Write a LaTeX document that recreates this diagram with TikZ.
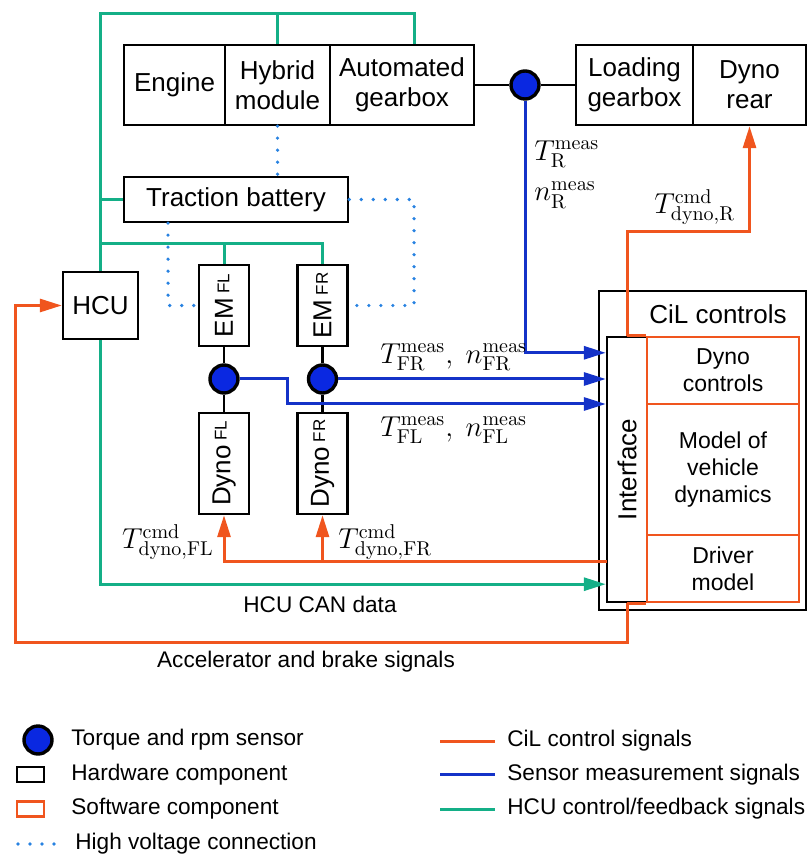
\documentclass[tikz,border=0pt]{standalone}
\usepackage[no-math]{fontspec}
\setmainfont{Liberation Sans}
\usetikzlibrary{arrows.meta}
\definecolor{cilorange}{RGB}{240,85,30}
\definecolor{sensblue}{RGB}{20,50,200}
\definecolor{sensfill}{RGB}{10,40,225}
\definecolor{hcugreen}{RGB}{20,175,135}
\definecolor{hvblue}{RGB}{40,130,225}
\newcommand{\boxfont}{\fontsize{13}{15}\selectfont}
\newcommand{\swfont}{\fontsize{11.5}{13.5}\selectfont}
\newcommand{\subtag}[1]{\,\raisebox{1.8pt}{\fontsize{8.5}{10}\selectfont #1}}
\begin{document}
\begin{tikzpicture}[x=0.5pt,y=-0.5pt,
  hw/.style={draw,line width=1.2pt,inner sep=0pt,align=center,font=\boxfont},
  sw/.style={draw=cilorange,line width=1.2pt,inner sep=0pt,align=center,font=\swfont},
  sensor/.style={circle,draw,line width=1.7pt,fill=sensfill,minimum size=14pt,inner sep=0pt},
  mech/.style={line width=1.2pt},
  cilline/.style={cilorange,line width=1.5pt},
  sensline/.style={sensblue,line width=1.5pt},
  hculine/.style={hcugreen,line width=1.5pt},
  hvline/.style={hvblue,line width=1.8pt,dash pattern=on 0pt off 6pt,line cap=round},
  sigarrow/.style={-{Triangle[length=11pt,width=6.5pt]}},
  lbl/.style={font=\fontsize{14}{16}\selectfont,inner sep=1pt},
  legtext/.style={font=\fontsize{11.3}{13}\selectfont,inner sep=1pt}]
\useasboundingbox (0,0) rectangle (808,854);
\node[hw,minimum width=50.5pt,minimum height=40pt] (eng) at (174.5,85) {Engine};
\node[hw,minimum width=52.5pt,minimum height=40pt] (hyb) at (277.5,85) {Hybrid\\module};
\node[hw,minimum width=72pt,minimum height=40pt] (agb) at (402,85) {Automated\\gearbox};
\node[sensor] (sR) at (525,85) {};
\node[hw,minimum width=58.5pt,minimum height=40pt] (lgb) at (634.5,85) {Loading\\gearbox};
\node[hw,minimum width=56.5pt,minimum height=40pt] (dyR) at (749.5,85) {Dyno\\rear};
\draw[mech] (agb) -- (sR) -- (lgb);
\node[hw,minimum width=112pt,minimum height=22.5pt] (bat) at (236,199.5) {Traction battery};
\node[hw,minimum width=37.5pt,minimum height=33.5pt] (hcu) at (100.5,305.5) {HCU};
\foreach \s/\x in {FL/224,FR/322.5} {
  \node[hw,minimum width=25pt,minimum height=40.5pt] (em\s) at (\x,305.5) {};
  \node[rotate=90,font=\boxfont] (tem\s) at (em\s) {EM\subtag{\s}};
  \node[sensor] (s\s) at (\x,379) {};
  \node[hw,minimum width=25pt,minimum height=50.5pt] (dy\s) at (\x,463.5) {};
  \node[rotate=90,font=\boxfont] (tdy\s) at (dy\s) {Dyno\subtag{\s}};
  \draw[mech] (em\s) -- (s\s) -- (dy\s);
}
\node[hw,minimum width=103.5pt,minimum height=159.5pt] (cil) at (702.5,450.5) {};
\node[font=\boxfont] (tcil) at (718,314) {CiL controls};
\node[hw,minimum width=20pt,minimum height=132.5pt] (intf) at (627,469.5) {};
\node[rotate=90,font=\boxfont] (tintf) at (intf) {Interface};
\node[sw,minimum width=76pt,minimum height=33.5pt] (dctl) at (723,370.5) {Dyno\\controls};
\node[sw,minimum width=76pt,minimum height=65.5pt] (mvd) at (723,469.5) {Model of\\vehicle\\dynamics};
\node[sw,minimum width=76pt,minimum height=33.5pt] (drv) at (723,568.5) {Driver\\model};
\draw[cilline] (intf.north) -- (dctl.north west) (intf.south) -- (drv.south west);
\coordinate (gtop) at (100.5,14);
\coordinate (gem) at (100.5,244);
\draw[hculine] (hcu.north) -- (gtop) -| ([xshift=6pt]agb.north);
\draw[hculine] (hyb.north) -- (hyb.north |- gtop);
\draw[hculine] (bat.west) -- (bat.west -| gtop);
\draw[hculine] (gem) -| (emFR.north); \draw[hculine] (emFL.north) -- (emFL.north |- gem);
\draw[hculine,sigarrow] (hcu.south) |- ([yshift=9.5pt]intf.south west);
\draw[hvline] (hyb.south) -- (bat.north -| hyb.south);
\coordinate (hvR) at (414,305.5);
\draw[hvline] (bat.east) -| (hvR) -- (emFR.east);
\draw[hvline] ([xshift=-34pt]bat.south) |- (emFL.west);
\draw[sensline,sigarrow] (sR.south) |- ([yshift=-8.5pt]intf.north west);
\draw[sensline,sigarrow] (sFR.east) -- (sFR.east -| intf.west);
\coordinate (bk) at (287,404);
\draw[sensline,sigarrow] (sFL.east) -| (bk) -- (bk -| intf.west);
\draw[cilline,sigarrow] (intf.north) |- ([yshift=-52.5pt]dyR.south) -- (dyR.south);
\coordinate (ocmd) at (607,561);
\draw[cilline,sigarrow] (ocmd) -| (dyFL.south);
\draw[cilline,sigarrow] (ocmd -| dyFR.south) -- (dyFR.south);
\coordinate (oacc) at (15,642);
\draw[cilline,sigarrow] (intf.south) |- (oacc) |- (hcu.west);
\node[lbl,anchor=west] (lTR) at (532,154) {$T^{\mathrm{meas}}_{\mathrm{R}}$};
\node[lbl,anchor=west] (lnR) at (532,195) {$n^{\mathrm{meas}}_{\mathrm{R}}$};
\node[lbl,anchor=west] (lcR) at (652,207) {$T^{\mathrm{cmd}}_{\mathrm{dyno,R}}$};
\node[lbl,anchor=west] (lFR) at (378,357) {$T^{\mathrm{meas}}_{\mathrm{FR}},\ n^{\mathrm{meas}}_{\mathrm{FR}}$};
\node[lbl,anchor=west] (lFL) at (378,430) {$T^{\mathrm{meas}}_{\mathrm{FL}},\ n^{\mathrm{meas}}_{\mathrm{FL}}$};
\node[lbl,anchor=east] (lcFL) at (216,542) {$T^{\mathrm{cmd}}_{\mathrm{dyno,FL}}$};
\node[lbl,anchor=west] (lcFR) at (336,542) {$T^{\mathrm{cmd}}_{\mathrm{dyno,FR}}$};
\node[legtext] (tcan) at (320,604) {HCU CAN data};
\node[legtext] (tacc) at (306,662) {Accelerator and brake signals};
\node[sensor] (lsen) at (38,740) {};
\node[legtext,anchor=west] (tsen) at (69,740) {Torque and rpm sensor};
\node[draw,line width=1.2pt,minimum width=13.5pt,minimum height=7.5pt,inner sep=0pt] (lhw) at (30.5,774.5) {};
\node[legtext,anchor=west] (thw) at (69,774.5) {Hardware component};
\node[draw=cilorange,line width=1.2pt,minimum width=13.5pt,minimum height=7.5pt,inner sep=0pt] (lsw) at (30.5,809) {};
\node[legtext,anchor=west] (tsw) at (69,809) {Software component};
\draw[hvline] (18,844) -- (55,844);
\node[legtext,anchor=west] (thv) at (73,844) {High voltage connection};
\draw[cilline] (440,741) -- (495,741);
\node[legtext,anchor=west] (tcs) at (505,741) {CiL control signals};
\draw[sensline] (440,774.5) -- (495,774.5);
\node[legtext,anchor=west] (tss) at (505,774.5) {Sensor measurement signals};
\draw[hculine] (440,809) -- (495,809);
\node[legtext,anchor=west] (ths) at (505,809) {HCU control/feedback signals};
\end{tikzpicture}
\end{document}
